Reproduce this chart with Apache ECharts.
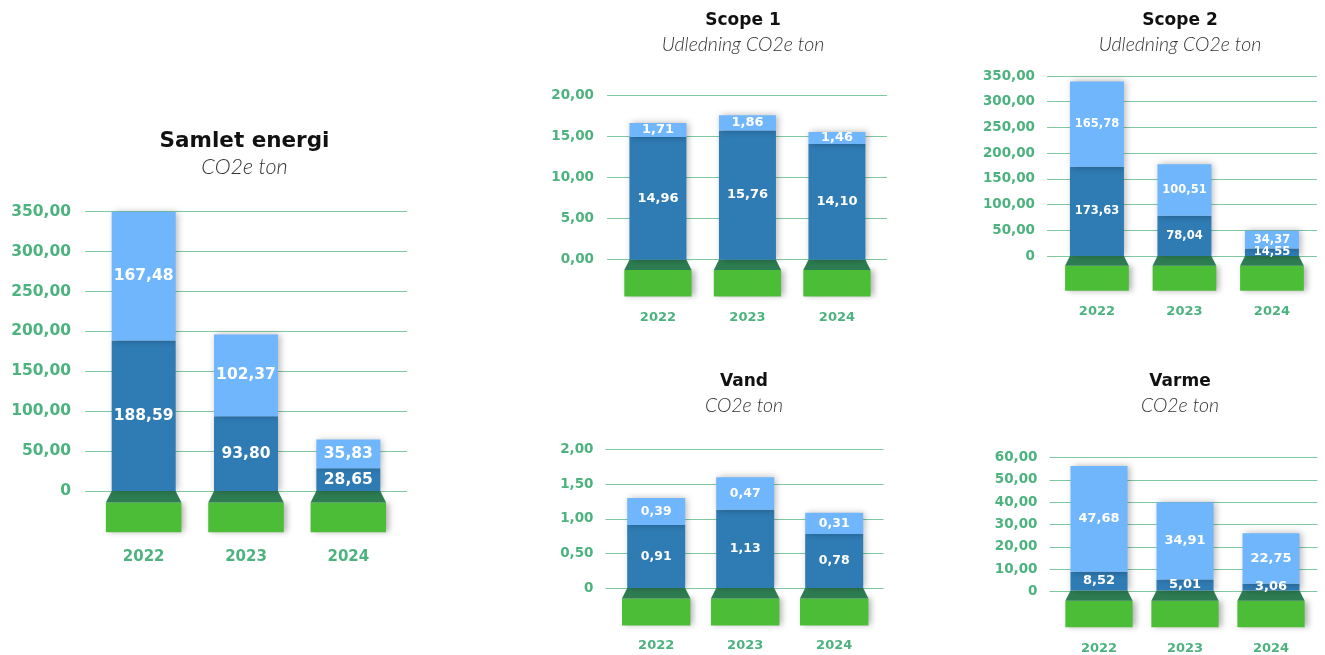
<!DOCTYPE html>
<html>
<head>
<meta charset="utf-8">
<script src="https://cdn.jsdelivr.net/npm/echarts@6/dist/echarts.min.js"></script>
<style>
html, body { margin: 0; padding: 0; background: #fff; }
#chart { width: 1325px; height: 655px; }
</style>
</head>
<body>
<div id="chart"></div>
<script>
// kategorier
const years = ['2022', '2023', '2024'];

// nederste (mørkeblå) og øverste (lyseblå) del af søjlerne
const samletLower = [188.59, 93.80, 28.65];
const samletUpper = [167.48, 102.37, 35.83];
const scope1Lower = [14.96, 15.76, 14.10];
const scope1Upper = [1.71, 1.86, 1.46];
const scope2Lower = [173.63, 78.04, 14.55];
const scope2Upper = [165.78, 100.51, 34.37];
const vandLower = [0.91, 1.13, 0.78];
const vandUpper = [0.39, 0.47, 0.31];
const varmeLower = [8.52, 5.01, 3.06];
const varmeUpper = [47.68, 34.91, 22.75];

// y-akser: max og trin
const samletTicks = [350, 50];
const scope1Ticks = [20, 5];
const scope2Ticks = [350, 50];
const vandTicks = [2, 0.5];
const varmeTicks = [60, 10];

const NUM_FONT = '"DejaVu Sans", sans-serif';
const SUB_FONT = 'Lato, "Open Sans", sans-serif';
const GREEN_TXT = '#4db37e';
const GRID_GREEN = '#7fc9a1';
const DARK_BLUE = '#2f7bb4';
const LIGHT_BLUE = '#6fb6fd';

const fmt = v => v.toFixed(2).replace('.', ',');

// lines = gitterlinjer og y-tekst, bars = søjleområdet
const panels = [
  { title: 'Samlet energi', sub: 'CO2e ton', lower: samletLower, upper: samletUpper, ticks: samletTicks, zero: '0',
    top: 211.7, height: 279.3, lines: [85, 322], bars: [92.5, 307], barW: 64,
    tx: 244.5, ty: 130, tSize: 21.5, sSize: 21.5, gap: 4,
    valSize: 15.5, axisSize: 15.5, yearSize: 15, yearGap: 66, yMargin: 14 },
  { title: 'Scope 1', sub: 'Udledning CO2e ton', lower: scope1Lower, upper: scope1Upper, ticks: scope1Ticks, zero: '0,00',
    top: 95.7, height: 164, lines: [607, 280], bars: [613.2, 268.5], barW: 57,
    tx: 743, ty: 12, tSize: 17, sSize: 19.5, gap: 6,
    valSize: 13, axisSize: 13.5, yearSize: 13, yearGap: 58, yMargin: 13 },
  { title: 'Scope 2', sub: 'Udledning CO2e ton', lower: scope2Lower, upper: scope2Upper, ticks: scope2Ticks, zero: '0',
    top: 76, height: 180, lines: [1047, 270], bars: [1053.2, 262.5], barW: 54,
    tx: 1180, ty: 12, tSize: 17, sSize: 19.5, gap: 6,
    valSize: 11.5, axisSize: 13.5, yearSize: 13, yearGap: 56, yMargin: 12 },
  { title: 'Vand', sub: 'CO2e ton', lower: vandLower, upper: vandUpper, ticks: vandTicks, zero: '0',
    top: 449.7, height: 138.3, lines: [605.5, 278], bars: [611.7, 267], barW: 58,
    tx: 744, ty: 373, tSize: 17, sSize: 19.5, gap: 6,
    valSize: 12.5, axisSize: 13.5, yearSize: 13, yearGap: 58, yMargin: 12 },
  { title: 'Varme', sub: 'CO2e ton', lower: varmeLower, upper: varmeUpper, ticks: varmeTicks, zero: '0',
    top: 457.7, height: 133.6, lines: [1049.5, 268], bars: [1056, 258], barW: 57,
    tx: 1180, ty: 373, tSize: 17, sSize: 19.5, gap: 6,
    valSize: 13, axisSize: 13.5, yearSize: 13, yearGap: 58, yMargin: 12 }
];

const option = { animation: false, title: [], grid: [], xAxis: [], yAxis: [], series: [] };

panels.forEach((p, i) => {
  const gl = i * 2, gb = i * 2 + 1;
  option.title.push({
    text: p.title, subtext: p.sub, left: p.tx, top: p.ty, textAlign: 'center', itemGap: p.gap, padding: 0,
    textStyle: { fontFamily: NUM_FONT, fontWeight: 'bold', fontSize: p.tSize, color: '#111' },
    subtextStyle: { fontFamily: SUB_FONT, fontStyle: 'italic', fontWeight: 300, fontSize: p.sSize, color: '#333' }
  });

  // gitter med y-akse
  option.grid.push({ left: p.lines[0], width: p.lines[1], top: p.top, height: p.height });
  option.xAxis.push({ type: 'value', gridIndex: gl, show: false, splitLine: { show: false } });
  option.yAxis.push({
    type: 'value', gridIndex: gl, min: 0, max: p.ticks[0], interval: p.ticks[1],
    axisLine: { show: false }, axisTick: { show: false },
    splitLine: { show: true, lineStyle: { color: GRID_GREEN, width: 1, type: 'solid' } },
    axisLabel: {
      formatter: v => v === 0 ? p.zero : fmt(v), margin: p.yMargin,
      color: GREEN_TXT, fontSize: p.axisSize, fontWeight: 'bold', fontFamily: NUM_FONT
    }
  });

  // søjleområde med årstal
  option.grid.push({ left: p.bars[0], width: p.bars[1], top: p.top, height: p.height });
  option.xAxis.push({
    type: 'category', gridIndex: gb, data: years,
    axisLine: { show: false }, axisTick: { show: false }, splitLine: { show: false },
    axisLabel: {
      margin: p.yearGap, verticalAlign: 'middle',
      color: GREEN_TXT, fontSize: p.yearSize, fontWeight: 'bold', fontFamily: NUM_FONT
    }
  });
  option.yAxis.push({
    type: 'value', gridIndex: gb, min: 0, max: p.ticks[0], interval: p.ticks[1], show: false,
    splitLine: { show: false }, axisLabel: { show: false }
  });

  // sokkel under hver søjle
  option.series.push({
    type: 'custom', xAxisIndex: gb, yAxisIndex: gb, z: 1, silent: true,
    data: years.map(() => 0),
    renderItem: (params, api) => {
      const c = api.coord([params.dataIndex, 0]);
      const half = p.barW / 2, wide = p.barW * 0.59, th = p.barW * 0.18, rh = p.barW * 0.465;
      return {
        type: 'group',
        children: [
          { type: 'rect', shape: { x: c[0] - wide, y: c[1] + th, width: wide * 2, height: rh },
            style: { fill: '#4bbd36', shadowBlur: 6, shadowColor: 'rgba(0,0,0,0.3)', shadowOffsetX: 3 } },
          { type: 'polygon',
            shape: { points: [[c[0] - half, c[1]], [c[0] + half, c[1]], [c[0] + wide, c[1] + th], [c[0] - wide, c[1] + th]] },
            style: { fill: '#2e7d52' } }
        ]
      };
    }
  });

  [[p.lower, DARK_BLUE], [p.upper, LIGHT_BLUE]].forEach(([vals, color]) => {
    option.series.push({
      type: 'bar', stack: 'stak' + i, xAxisIndex: gb, yAxisIndex: gb, z: 2, barWidth: p.barW,
      data: vals,
      itemStyle: { color: color, shadowBlur: 7, shadowColor: 'rgba(0,0,0,0.3)', shadowOffsetX: 2 },
      label: {
        show: true, position: 'inside', formatter: d => fmt(d.value),
        color: '#fff', fontSize: p.valSize, fontWeight: 'bold', fontFamily: NUM_FONT
      }
    });
  });
});

const chart = echarts.init(document.getElementById('chart'));
chart.setOption(option);
</script>
</body>
</html>
